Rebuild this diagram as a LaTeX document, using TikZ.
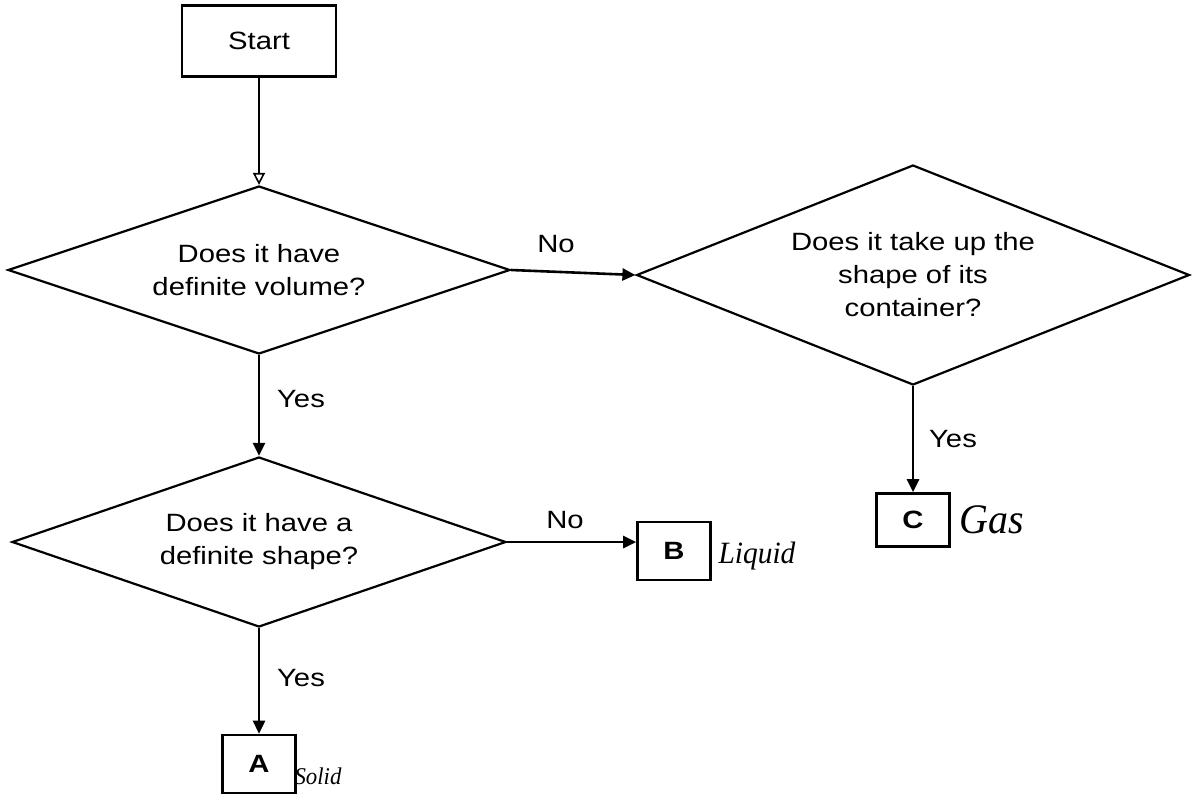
\documentclass[tikz,border=0pt]{standalone}
\usepackage{fontspec}
\setmainfont{Liberation Sans}[FakeStretch=1.17]
\newfontfamily\handfont{Liberation Serif}[FakeStretch=0.95]
\usetikzlibrary{shapes.geometric,arrows.meta}
\tikzset{
  decision/.style={draw=black,line width=2.2pt,diamond,inner sep=0pt,align=center,
    font=\fontsize{25}{33}\selectfont},
  termbox/.style={draw=black,line width=2.6pt,rectangle,inner sep=0pt,
    font=\fontsize{25}{30}\selectfont},
  letterbox/.style={draw=black,line width=2.6pt,rectangle,inner sep=0pt,
    minimum width=73pt,font=\fontsize{25}{30}\selectfont\bfseries},
  flow/.style={line width=2.6pt,-{Triangle[length=13pt,width=12pt]}},
  openflow/.style={line width=2.6pt,-{Triangle[open,length=12pt,width=12pt,line width=1.6pt]}},
  lbl/.style={font=\fontsize{25}{30}\selectfont,inner sep=0pt},
  hand/.style={font=\handfont\itshape,inner sep=0pt}
}
\begin{document}
\begin{tikzpicture}[x=1pt,y=-1pt]
\useasboundingbox[fill=white] (0,0) rectangle (1192,796);

\node[termbox,minimum width=154pt,minimum height=71pt] (start) at (259,41) {Start};

\node[decision,aspect=3,minimum width=502pt,minimum height=168pt] (d1) at (259,270)
  {Does it have\\definite volume?};
\node[decision,aspect=2.51,minimum width=553pt,minimum height=220pt] (d2) at (913,275)
  {Does it take up the\\shape of its\\container?};
\node[decision,aspect=2.9,minimum width=494pt,minimum height=170pt] (d3) at (259,542)
  {Does it have a\\definite shape?};

\node[letterbox,minimum height=58pt] (b) at (674,551) {B};
\node[letterbox,minimum height=53pt] (c) at (913,520) {C};
\node[letterbox,minimum height=58pt] (a) at (259,764) {A};

\draw[openflow] (start) -- (d1.north);
\draw[flow] (d1.east) -- (d2.west);
\draw[flow] (d1.south) -- (d3.north);
\draw[flow] (d3.east) -- (d3.east -| b.west);
\draw[flow] (d3.south) -- (a.north);
\draw[flow] (d2.south) -- (c.north);

\node[lbl] (no1) at (556,244) {No};
\node[lbl] (yes1) at (301,399) {Yes};
\node[lbl] (no2) at (565,520) {No};
\node[lbl] (yes2) at (301,678) {Yes};
\node[lbl] (yes3) at (953,439) {Yes};

\node[hand,font=\handfont\itshape\fontsize{31}{34}\selectfont] (liquid) at (757,556) {Liquid};
\node[hand,font=\handfont\itshape\fontsize{42}{44}\selectfont] (gas) at (992,520) {Gas};
\node[hand,font=\handfont\itshape\fontsize{24}{26}\selectfont] (solid) at (318,776) {Solid};
\end{tikzpicture}
\end{document}
